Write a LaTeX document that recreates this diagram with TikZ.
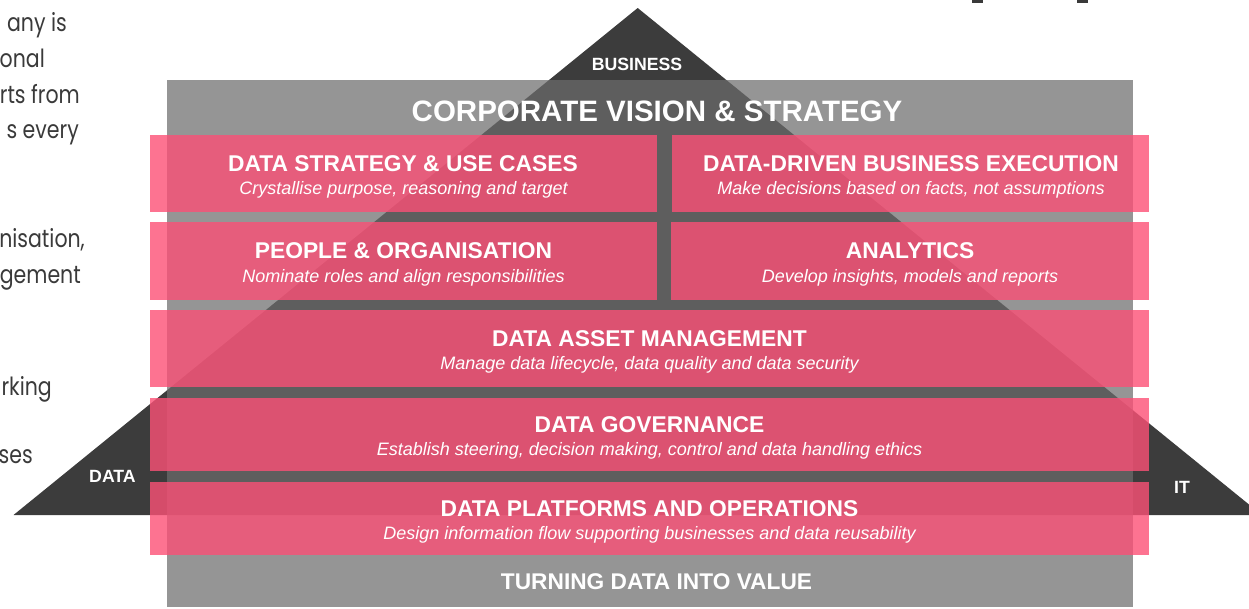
\documentclass[tikz,border=0pt]{standalone}
\usepackage{fontspec}
\setmainfont{Liberation Sans}
\newfontfamily\bodyfont{Poppins}
\definecolor{pyramid}{HTML}{3C3C3C}
\definecolor{slab}{HTML}{6C6C6C}
\definecolor{brick}{RGB}{252,80,118}
\definecolor{bodytext}{HTML}{3A3A3A}
\newcommand{\narrow}[1]{\scalebox{0.82}[1]{#1}}

\begin{document}
\begin{tikzpicture}[x=1pt,y=-1pt,
  pillar/.style={fill=brick, fill opacity=0.8, draw=none, inner sep=0pt, outer sep=0pt},
  head/.style={text=white, font=\bfseries\fontsize{22.8}{26}\selectfont, anchor=base, inner sep=0pt},
  sub/.style={text=white, font=\itshape\fontsize{18}{21}\selectfont, anchor=base, inner sep=0pt},
  corner/.style={text=white, font=\bfseries\fontsize{17.7}{21}\selectfont, anchor=base, inner sep=0pt},
  prose/.style={text=bodytext, font=\bodyfont\fontsize{25}{30}\selectfont, anchor=base east, inner sep=0pt}
]
\useasboundingbox (0,0) rectangle (1249,608);
\clip (0,0) rectangle (1249,608);

% surrounding prose at the left edge
\node[prose] (p1) at (67,31)  {\narrow{any is}};
\node[prose] (p2) at (45,67)  {\narrow{onal}};
\node[prose] (p3) at (80,103) {\narrow{rts from}};
\node[prose] (p4) at (79,138) {\narrow{s every}};
\node[prose] (p5) at (85,247) {\narrow{nisation,}};
\node[prose] (p6) at (81,283) {\narrow{gement}};
\node[prose] (p7) at (52,395) {\narrow{rking}};
\node[prose] (p8) at (33,463) {\narrow{ses}};

% heading fragments at the top edge
\fill[bodytext] (972,0) rectangle (983,2.5);
\fill[bodytext] (1077,0) rectangle (1088,2.5);

% the pyramid behind the house
\coordinate (apex) at (637.7,8);
\coordinate (leftfoot) at (13.5,515);
\coordinate (rightfoot) at (1261.9,515);
\fill[pyramid] (apex) -- (leftfoot) -- (rightfoot) -- cycle;
\node[corner] (business) at (637,70) {BUSINESS};
\node[corner] (data) at (112.5,482) {DATA};
\node[corner] (it) at (1182,493) {IT};

% grey frame of the house
\node[fill=slab, fill opacity=0.72, draw=none, inner sep=0pt, outer sep=0pt,
      minimum width=966pt, minimum height=527pt] (frame) at (650,343.5) {};
\node[text=white, font=\bfseries\fontsize{29.5}{33}\selectfont, anchor=base, inner sep=0pt]
  (vision) at (657,121.5) {CORPORATE VISION \& STRATEGY};
\node[text=white, font=\bfseries\fontsize{22.7}{26}\selectfont, anchor=base, inner sep=0pt]
  (value) at (656.5,589) {TURNING DATA INTO VALUE};

% building blocks
\node[pillar, minimum width=507pt, minimum height=77pt] (usecases) at (403.5,173.5) {};
\node[pillar, minimum width=477pt, minimum height=77pt] (execution) at (910.5,173.5) {};
\node[pillar, minimum width=507pt, minimum height=78pt] (people) at (403.5,261) {};
\node[pillar, minimum width=478pt, minimum height=78pt] (analytics) at (910,261) {};
\node[pillar, minimum width=999pt, minimum height=77pt] (asset) at (649.5,348.5) {};
\node[pillar, minimum width=999pt, minimum height=73pt] (governance) at (649.5,434.5) {};
\node[pillar, minimum width=999pt, minimum height=73pt] (platforms) at (649.5,518.5) {};

\node[head] (usecases-t) at (403,171) {DATA STRATEGY \& USE CASES};
\node[sub]  (usecases-s) at (403.5,194.5) {Crystallise purpose, reasoning and target};
\node[head] (execution-t) at (911,171) {DATA-DRIVEN BUSINESS EXECUTION};
\node[sub]  (execution-s) at (911,194.5) {Make decisions based on facts, not assumptions};
\node[head] (people-t) at (403.5,258.5) {PEOPLE \& ORGANISATION};
\node[sub]  (people-s) at (403.5,282) {Nominate roles and align responsibilities};
\node[head] (analytics-t) at (910,258.5) {ANALYTICS};
\node[sub]  (analytics-s) at (910,282) {Develop insights, models and reports};
\node[head] (asset-t) at (649.5,346) {DATA ASSET MANAGEMENT};
\node[sub]  (asset-s) at (649.5,369.5) {Manage data lifecycle, data quality and data security};
\node[head] (governance-t) at (649.5,432) {DATA GOVERNANCE};
\node[sub]  (governance-s) at (649.5,455.5) {Establish steering, decision making, control and data handling ethics};
\node[head] (platforms-t) at (649.5,516) {DATA PLATFORMS AND OPERATIONS};
\node[sub]  (platforms-s) at (649.5,539.5) {Design information flow supporting businesses and data reusability};
\end{tikzpicture}
\end{document}
